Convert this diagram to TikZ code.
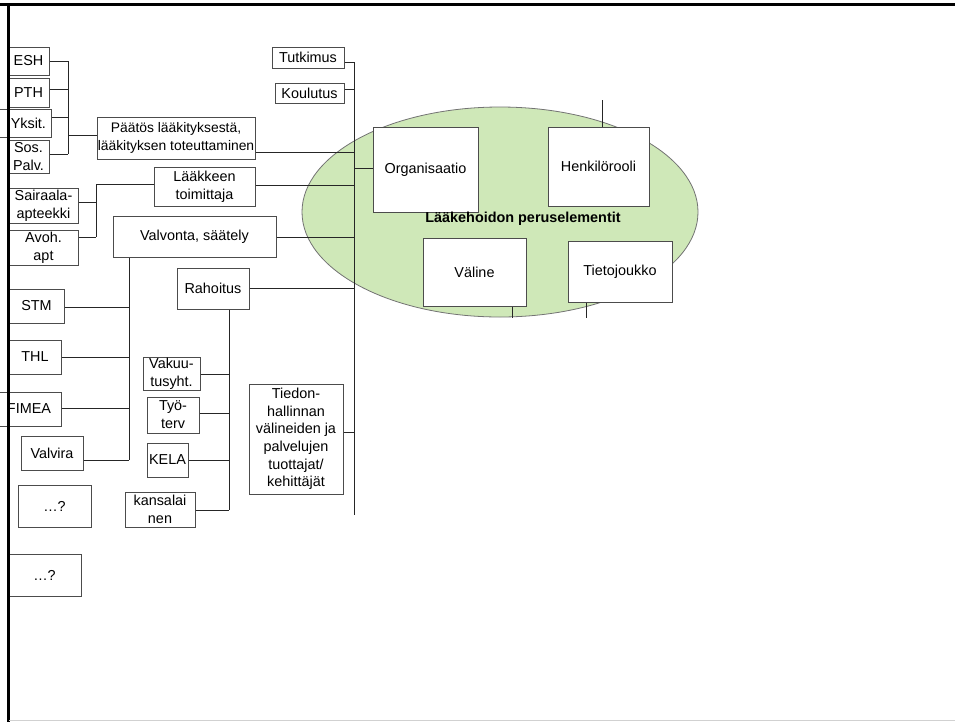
\documentclass[tikz,border=0pt]{standalone}
\usepackage{fontspec}
\setmainfont{Liberation Sans}
\newcommand{\mybox}[7][]{\node[box, #1, minimum width={(#5-#3)*0.75pt}, minimum height={(#6-#4)*0.75pt}] (#2) at ({(#3+#5)/2},{(#4+#6)/2}) {#7};}
\begin{document}
\begin{tikzpicture}[x=0.75pt,y=-0.75pt,
  box/.style={draw=black!70, fill=white, line width=0.75pt, align=center, inner sep=0pt, font=\fontsize{10.8}{13.5}\selectfont},
  conn/.style={draw=black!85, line width=0.75pt},
  frame/.style={line width=2.25pt, black}]
\useasboundingbox (0,0) rectangle (955,722);
\clip (0,0) rectangle (955,722);
\fill[white] (0,0) rectangle (955,722);
% ellipse (clipped at bottom)
\begin{scope}
\clip (0,0) rectangle (955,318);
\draw[fill={rgb,255:red,207;green,232;blue,184}, draw=black!55, line width=0.6pt] (500,212) ellipse [x radius=198, y radius=105];
\end{scope}
% main trunk
\coordinate (tTop) at (354,62);
\coordinate (tBot) at (354,515);
\draw[conn] (tTop) -- (tBot);
% left group boxes
\mybox{esh}{8}{47}{49}{75}{ESH}
\mybox{pth}{8}{78}{49}{107}{PTH}
\mybox[align=right, inner xsep=3.75pt, text width=33pt]{yks}{-3}{109}{51}{137}{Yksit.}
\mybox{sos}{8}{140}{49}{173}{Sos.\\Palv.}
\mybox{sai}{9}{188}{78}{223}{Sairaala-\\apteekki}
\mybox{avo}{9}{230}{78}{265}{Avoh.\\apt}
\mybox{stm}{9}{289}{64}{323}{STM}
\mybox{thl}{9}{340}{61}{374}{THL}
\mybox{fim}{-3}{392}{61}{426}{FIMEA}
\mybox{val}{21}{436}{83}{470}{Valvira}
\mybox{q1}{18}{485}{91}{527}{…?}
\mybox{q2}{8}{554}{81}{596}{…?}
% middle boxes
\mybox[font=\fontsize{10.4}{13.5}\selectfont]{paa}{97}{117}{255}{159}{Päätös lääkityksestä,\\lääkityksen toteuttaminen}
\mybox{lak}{154}{167}{255}{206}{Lääkkeen\\toimittaja}
\mybox{vlv}{113}{216}{276}{257}{Valvonta, säätely}
\mybox{rah}{177}{268}{249}{309}{Rahoitus}
\mybox{vak}{143}{357}{200}{390}{Vakuu-\\tusyht.}
\mybox{tyo}{147}{397}{199}{433}{Työ-\\terv}
\mybox{kel}{147}{443}{188}{477}{KELA}
\mybox{kan}{125}{492}{195}{527}{kansalai\\nen}
\mybox[font=\fontsize{10.8}{13.2}\selectfont]{tie}{249}{384}{343}{494}{Tiedon-\\hallinnan\\välineiden ja\\palvelujen\\tuottajat/\\kehittäjät}
\mybox{tut}{272}{47}{344}{68}{Tutkimus}
\mybox{kou}{275}{83}{344}{103}{Koulutus}
% ellipse content
\mybox{org}{373}{127}{478}{212}{Organisaatio}
\mybox{hen}{548}{127}{649}{206}{Henkilörooli}
\mybox{vali}{423}{238}{526}{306}{Väline}
\mybox{tiet}{568}{241}{672}{302}{Tietojoukko}
\node[font=\fontsize{10.8}{13}\selectfont\bfseries, inner sep=0pt] (title) at (523,219) {Lääkehoidon peruselementit};
% connectors to trunk
\draw[conn] (tut.east |- tTop) -- (tTop);
\coordinate (tK) at (354,89);  \draw[conn] (kou.east |- tK) -- (tK);
\coordinate (tP) at (354,152); \draw[conn] (paa.east |- tP) -- (tP);
\coordinate (tO) at (354,168); \draw[conn] (tO) -- (org.west |- tO);
\coordinate (tL) at (354,185); \draw[conn] (lak.east |- tL) -- (tL);
\coordinate (tV) at (354,237); \draw[conn] (vlv.east |- tV) -- (tV);
\coordinate (tR) at (354,288); \draw[conn] (rah.east |- tR) -- (tR);
\coordinate (tT) at (354,432); \draw[conn] (tie.east |- tT) -- (tT);
% bracket A: ESH..Sos -> Paatos
\coordinate (aTop) at (68,61); \coordinate (aBot) at (68,154);
\draw[conn] (aTop) -- (aBot);
\draw[conn] (esh.east |- aTop) -- (aTop);
\coordinate (aP) at (68,89);  \draw[conn] (pth.east |- aP) -- (aP);
\coordinate (aY) at (68,117); \draw[conn] (yks.east |- aY) -- (aY);
\draw[conn] (sos.east |- aBot) -- (aBot);
\coordinate (aM) at (68,135); \draw[conn] (aM) -- (paa.west |- aM);
% bracket B: Sairaala, Avoh -> Laakkeen toimittaja
\coordinate (bTop) at (96,184); \coordinate (bBot) at (96,237);
\draw[conn] (lak.west |- bTop) -- (bTop) -- (bBot);
\coordinate (bS) at (96,202); \draw[conn] (sai.east |- bS) -- (bS);
\draw[conn] (avo.east |- bBot) -- (bBot);
% bracket C: Valvonta -> STM..Valvira
\coordinate (cBot) at (129,460);
\draw[conn] (vlv.south -| cBot) -- (cBot);
\coordinate (cS) at (129,307); \draw[conn] (stm.east |- cS) -- (cS);
\coordinate (cT) at (129,357); \draw[conn] (thl.east |- cT) -- (cT);
\coordinate (cF) at (129,408); \draw[conn] (fim.east |- cF) -- (cF);
\draw[conn] (val.east |- cBot) -- (cBot);
% bracket D: Rahoitus -> Vakuutus..kansalainen
\coordinate (dBot) at (229,510);
\draw[conn] (rah.south -| dBot) -- (dBot);
\coordinate (dV) at (229,374); \draw[conn] (vak.east |- dV) -- (dV);
\coordinate (dT) at (229,413); \draw[conn] (tyo.east |- dT) -- (dT);
\coordinate (dK) at (229,460); \draw[conn] (kel.east |- dK) -- (dK);
\draw[conn] (kan.east |- dBot) -- (dBot);
% stubs of the ellipse boxes
\coordinate (hUp) at (602,100); \draw[conn] (hUp) -- (hen.north -| hUp);
\coordinate (vDn) at (512,318); \draw[conn] (vali.south -| vDn) -- (vDn);
\coordinate (tjDn) at (586,318); \draw[conn] (tiet.south -| tjDn) -- (tjDn);
% frame
\draw[frame] (0,4.5) -- (955,4.5);
\draw[frame] (8,3.5) -- (8,722);
\draw[black!18, line width=0.75pt] (9,720.5) -- (955,720.5);
\end{tikzpicture}
\end{document}
